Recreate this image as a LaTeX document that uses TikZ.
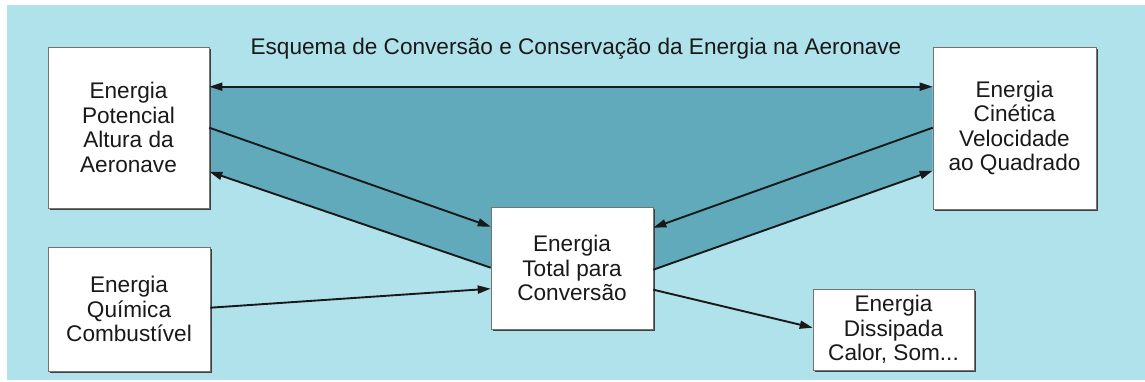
\documentclass[tikz,border=0pt]{standalone}
\usepackage{fontspec}
\setmainfont{Liberation Sans}
\usetikzlibrary{arrows.meta,calc,shadows,backgrounds}
\definecolor{bgblue}{RGB}{176,226,236}
\definecolor{bandblue}{RGB}{96,170,188}
\definecolor{txt}{RGB}{25,25,25}
\tikzset{
  ebox/.style={rectangle, draw=black!55, line width=0.6pt, fill=white, inner sep=0pt,
    align=center, text=txt, font=\fontsize{22.6}{24.4}\selectfont,
    drop shadow={shadow xshift=1.6pt, shadow yshift=-1.6pt, fill=black!75, opacity=1}},
  conn/.style={line width=1.9pt, draw=black!90, -{Triangle[length=13pt,width=8pt]}},
  dconn/.style={line width=1.9pt, draw=black!90, {Triangle[length=13pt,width=8pt]}-{Triangle[length=13pt,width=8pt]}},
}
\begin{document}
\begin{tikzpicture}[x=1pt,y=-1pt]
\useasboundingbox (0,0) rectangle (1145,382);
\node[ebox, minimum width=161pt, minimum height=161pt] (p) at (128.5,127.5) {Energia\\Potencial\\Altura da\\Aeronave};
\node[ebox, minimum width=163pt, minimum height=162pt] (k) at (1014.5,128) {Energia\\Cinética\\Velocidade\\ao Quadrado};
\node[ebox, minimum width=162pt, minimum height=122pt] (t) at (572,268) {Energia\\Total para\\Conversão};
\node[ebox, minimum width=161pt, minimum height=81pt] (d) at (893.5,329.5) {Energia\\Dissipada\\Calor, Som...};
\node[ebox, minimum width=162pt, minimum height=124pt] (q) at (129,309) {Energia\\Química\\Combustível};
\node[text=txt, font=\fontsize{22.6}{24.4}\selectfont, inner sep=0pt] (title) at (576,49) {Esquema de Conversão e Conservação da Energia na Aeronave};

\coordinate (pa) at ($(p.north east)+(0,40)$);
\coordinate (ka) at ($(k.north west)+(0,40)$);
\coordinate (pb) at ($(p.north east)+(0,81)$);
\coordinate (tb) at ($(t.north west)+(0,20)$);
\coordinate (tc) at ($(t.north west)+(0,61)$);
\coordinate (pc) at ($(p.north east)+(0,125)$);
\coordinate (kd) at ($(k.north west)+(0,81)$);
\coordinate (td) at ($(t.north east)+(0,21)$);
\coordinate (te) at ($(t.north east)+(0,63)$);
\coordinate (ke) at ($(k.north west)+(0,124)$);
\coordinate (qf) at ($(q.north east)+(0,61)$);
\coordinate (tf) at ($(t.north west)+(0,82)$);
\coordinate (tg) at ($(t.north east)+(0,83)$);
\coordinate (dg) at ($(d.north west)+(0,39)$);

\begin{scope}[on background layer]
  \fill[white] (0,0) rectangle (1145,382);
  \fill[bgblue] (7,5) rectangle (1145,380);
  \fill[bandblue] (pa) -- (ka) -- (ke) -- (te) -- (tc) -- (pc) -- cycle;
\end{scope}

\draw[dconn] (pa) -- (ka);
\draw[conn] (pb) -- (tb);
\draw[conn] (tc) -- (pc);
\draw[conn] (kd) -- (td);
\draw[conn] (te) -- (ke);
\draw[conn] (qf) -- (tf);
\draw[conn] (tg) -- (dg);
\end{tikzpicture}
\end{document}
